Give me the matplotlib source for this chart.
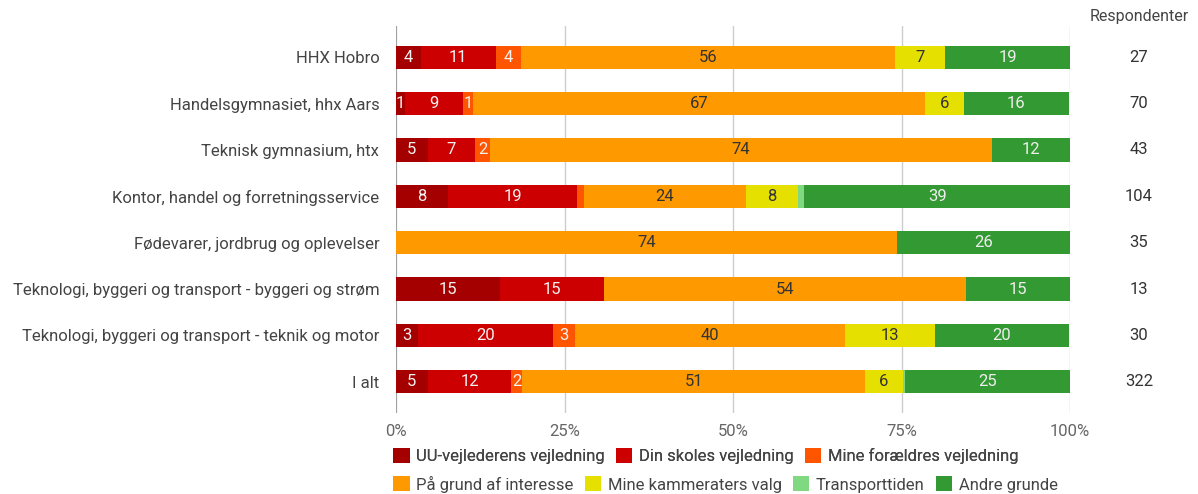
import matplotlib
matplotlib.use("Agg")
import matplotlib.pyplot as plt
from matplotlib.patches import Patch
from matplotlib.transforms import blended_transform_factory

plt.rcParams['font.family'] = ['Roboto', 'DejaVu Sans']

categories = [
    "HHX Hobro",
    "Handelsgymnasiet, hhx Aars",
    "Teknisk gymnasium, htx",
    "Kontor, handel og forretningsservice",
    "Fødevarer, jordbrug og oplevelser",
    "Teknologi, byggeri og transport - byggeri og strøm",
    "Teknologi, byggeri og transport - teknik og motor",
    "I alt",
]
respondents = [27, 70, 43, 104, 35, 13, 30, 322]

series_names = [
    "UU-vejlederens vejledning",
    "Din skoles vejledning",
    "Mine forældres vejledning",
    "På grund af interesse",
    "Mine kammeraters valg",
    "Transporttiden",
    "Andre grunde",
]
uu = [3.7, 1.4, 4.7, 7.7, 0.0, 15.4, 3.3, 4.7]
din_skole = [11.1, 8.6, 7.0, 19.2, 0.0, 15.4, 20.0, 12.4]
foraeldre = [3.7, 1.4, 2.3, 1.0, 0.0, 0.0, 3.3, 1.6]
interesse = [55.6, 67.1, 74.4, 24.0, 74.3, 53.8, 40.0, 50.9]
kammerater = [7.4, 5.7, 0.0, 7.7, 0.0, 0.0, 13.3, 5.6]
transport = [0.0, 0.0, 0.0, 1.0, 0.0, 0.0, 0.0, 0.3]
andre = [18.5, 15.7, 11.6, 39.4, 25.7, 15.4, 20.0, 24.5]
series = [uu, din_skole, foraeldre, interesse, kammerater, transport, andre]

colors = ["#a50000", "#cc0000", "#ff5500", "#ff9900", "#e6e000", "#80d880", "#339933"]
label_colors = ["#f2f2f2", "#f2f2f2", "#f2f2f2", "#333333", "#333333", "#333333", "#eeeeee"]

tick_vals = [0, 25, 50, 75, 100]
tick_labels = ["0%", "25%", "50%", "75%", "100%"]

W, H = 1198, 494
FS = 12
fig = plt.figure(figsize=(W / 100, H / 100), dpi=100)
ax = fig.add_axes([396 / W, 1 - 413 / H, (1070 - 396) / W, (413 - 26) / H])

ypos = list(range(len(categories)))
left = [0.0] * len(categories)
for vals, col, lc in zip(series, colors, label_colors):
    ax.barh(ypos, vals, left=left, height=0.5, color=col, edgecolor="none", zorder=3)
    for i, v in enumerate(vals):
        if v >= 1.2:
            ax.text(left[i] + v / 2, i, f"{int(v + 0.5):d}", ha="center", va="center",
                    color=lc, fontsize=FS, zorder=4)
    left = [l + v for l, v in zip(left, vals)]

ax.set_xlim(0, 100)
ax.set_ylim(len(categories) - 1 + 0.676, -0.676)
ax.set_xticks(tick_vals)
ax.set_xticklabels(tick_labels, color="#666666", fontsize=FS)
ax.set_yticks(ypos)
ax.set_yticklabels(categories, color="#444444", fontsize=FS)
ax.tick_params(axis="both", length=0)
ax.tick_params(axis="x", pad=8)
ax.tick_params(axis="y", pad=12)
for s in ax.spines.values():
    s.set_visible(False)
ax.xaxis.grid(True, color="#cccccc", linewidth=1, zorder=0)
ax.axvline(0, color="#999999", linewidth=1.2, zorder=2)

# Respondents column
tr = blended_transform_factory(fig.transFigure, ax.transData)
for i, n in enumerate(respondents):
    ax.text(1139 / W, i, str(n), transform=tr, ha="center", va="center",
            color="#333333", fontsize=FS)
fig.text(1139 / W, 1 - 17 / H, "Respondenter", ha="center", va="center",
         color="#444444", fontsize=11.5)

# Legend
handles = [Patch(facecolor=c, edgecolor="none", label=n) for c, n in zip(colors, series_names)]
common = dict(frameon=False, handlelength=1.0, handleheight=1.0, handletextpad=0.4,
              columnspacing=0.65, borderaxespad=0, borderpad=0, fontsize=FS,
              labelcolor="#444444", loc="center left")
leg1 = fig.legend(handles=handles[:3], ncol=3, bbox_to_anchor=(393 / W, 1 - 456 / H), **common)
fig.add_artist(leg1)
leg2 = fig.legend(handles=handles[3:], ncol=4, bbox_to_anchor=(393 / W, 1 - 484 / H), **common)

fig.savefig("out.png", dpi=100)
